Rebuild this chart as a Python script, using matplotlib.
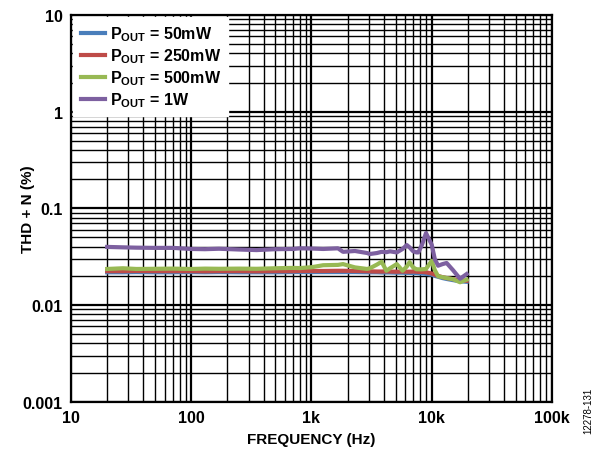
import numpy as np
import matplotlib.pyplot as plt
from matplotlib.ticker import LogLocator, FixedLocator, NullFormatter

plt.rcParams['font.family'] = ['Liberation Sans', 'DejaVu Sans']
plt.rcParams['mathtext.fontset'] = 'custom'
plt.rcParams['mathtext.bf'] = 'Liberation Sans:bold'
plt.rcParams['mathtext.rm'] = 'Liberation Sans:bold'

# frequency points (Hz)
freq = [20, 27, 35, 50, 70, 100, 130, 170, 250, 350, 500, 700, 800, 1000, 1250, 1660,
        1830, 2300, 2900, 3060, 3500, 3830, 4200, 4500, 5120, 5720, 6200, 6540, 7000,
        7470, 7730, 8300, 8960, 10000, 10600, 11300, 12300, 13300, 15000, 17200, 19500]

# THD+N (%)
thd_50mw = [0.0218, 0.0218, 0.0219, 0.0218, 0.0218, 0.0219, 0.0218, 0.0219, 0.0218, 0.0218,
            0.0218, 0.0219, 0.0219, 0.0219, 0.0219, 0.0219, 0.0219, 0.0219, 0.0218, 0.0218,
            0.0218, 0.0217, 0.0217, 0.0217, 0.0216, 0.0216, 0.0215, 0.0215, 0.0214, 0.0214,
            0.0213, 0.0212, 0.0210, 0.0206, 0.0200, 0.0196, 0.0190, 0.0186, 0.0181, 0.0176, 0.0174]
thd_250mw = [0.0224, 0.0224, 0.0225, 0.0224, 0.0224, 0.0224, 0.0223, 0.0224, 0.0224, 0.0223,
             0.0224, 0.0224, 0.0225, 0.0225, 0.0225, 0.0226, 0.0226, 0.0225, 0.0224, 0.0223,
             0.0222, 0.0222, 0.0223, 0.0222, 0.0221, 0.0222, 0.0221, 0.0221, 0.0222, 0.0221,
             0.0220, 0.0220, 0.0218, 0.0212, 0.0206, 0.0200, 0.0194, 0.0190, 0.0185, 0.0180, 0.0178]
thd_500mw = [0.0236, 0.0240, 0.0236, 0.0237, 0.0238, 0.0236, 0.0238, 0.0237, 0.0238, 0.0237,
             0.0240, 0.0242, 0.0241, 0.0246, 0.0258, 0.0260, 0.0265, 0.0245, 0.0236, 0.0240,
             0.0262, 0.0280, 0.0226, 0.0240, 0.0265, 0.0226, 0.0250, 0.0278, 0.0245, 0.0234,
             0.0234, 0.0234, 0.0236, 0.0287, 0.0230, 0.0198, 0.0194, 0.0190, 0.0185, 0.0172, 0.0183]
thd_1w = [0.0399, 0.0395, 0.0392, 0.0390, 0.0390, 0.0380, 0.0378, 0.0382, 0.0375, 0.0370,
          0.0378, 0.0380, 0.0386, 0.0384, 0.0380, 0.0386, 0.0355, 0.0362, 0.0345, 0.0337,
          0.0345, 0.0355, 0.0352, 0.0359, 0.0350, 0.0380, 0.0417, 0.0395, 0.0360, 0.0350,
          0.0350, 0.0420, 0.0555, 0.0420, 0.0299, 0.0255, 0.0265, 0.0272, 0.0230, 0.0187, 0.0209]

series = [(thd_50mw, '#4a7ebb', r'P$_{\mathbf{OUT}}$ = 50mW'),
          (thd_250mw, '#be4b48', r'P$_{\mathbf{OUT}}$ = 250mW'),
          (thd_500mw, '#98b954', r'P$_{\mathbf{OUT}}$ = 500mW'),
          (thd_1w, '#7d60a0', r'P$_{\mathbf{OUT}}$ = 1W')]

fig = plt.figure(figsize=(5.97, 4.52), dpi=100)
ax = fig.add_axes([0.1189, 0.1091, 0.8057, 0.8555])

for vals, col, lab in series:
    ax.plot(freq, vals, color=col, lw=3, label=lab, zorder=3)

ax.set_xscale('log')
ax.set_yscale('log')
ax.set_xlim(10, 100000)
ax.set_ylim(0.001, 10)

ax.xaxis.set_major_locator(FixedLocator([10, 100, 1000, 10000, 100000]))
ax.set_xticklabels(['10', '100', '1k', '10k', '100k'])
ax.xaxis.set_minor_locator(LogLocator(base=10, subs=np.arange(2, 10)))
ax.xaxis.set_minor_formatter(NullFormatter())
ax.yaxis.set_major_locator(FixedLocator([0.001, 0.01, 0.1, 1, 10]))
ax.set_yticklabels(['0.001', '0.01', '0.1', '1', '10'])
ax.yaxis.set_minor_locator(LogLocator(base=10, subs=np.arange(2, 10)))
ax.yaxis.set_minor_formatter(NullFormatter())

ax.grid(True, which='major', color='black', lw=1.6, zorder=1)
ax.grid(True, which='minor', color='black', lw=1.0, zorder=1)
ax.tick_params(which='both', length=0, labelsize=11.5, pad=6)
for t in ax.get_xticklabels() + ax.get_yticklabels():
    t.set_fontweight('bold')
for s in ax.spines.values():
    s.set_linewidth(1.6)

ax.set_xlabel('FREQUENCY (Hz)', fontsize=11, fontweight='bold')
ax.set_ylabel('THD + N (%)', fontsize=11, fontweight='bold')
ax.xaxis.set_label_coords(0.5, -0.096)
ax.yaxis.set_label_coords(-0.089, 0.5)
ax.xaxis.label.set_va('center')
ax.yaxis.label.set_va('center')

leg = ax.legend(loc='upper left', frameon=True, fancybox=False, framealpha=1,
                edgecolor='white', prop={'weight': 'bold', 'size': 11.5},
                handlelength=1.55, handletextpad=0.3, labelspacing=0.2,
                borderaxespad=0.15, borderpad=0.45)
leg.set_zorder(5)
for line in leg.get_lines():
    line.set_linewidth(3)

fig.text(0.985, 0.09, '12278-131', rotation=90, fontsize=7, ha='center', va='center')

fig.savefig('out.png', dpi=100)
